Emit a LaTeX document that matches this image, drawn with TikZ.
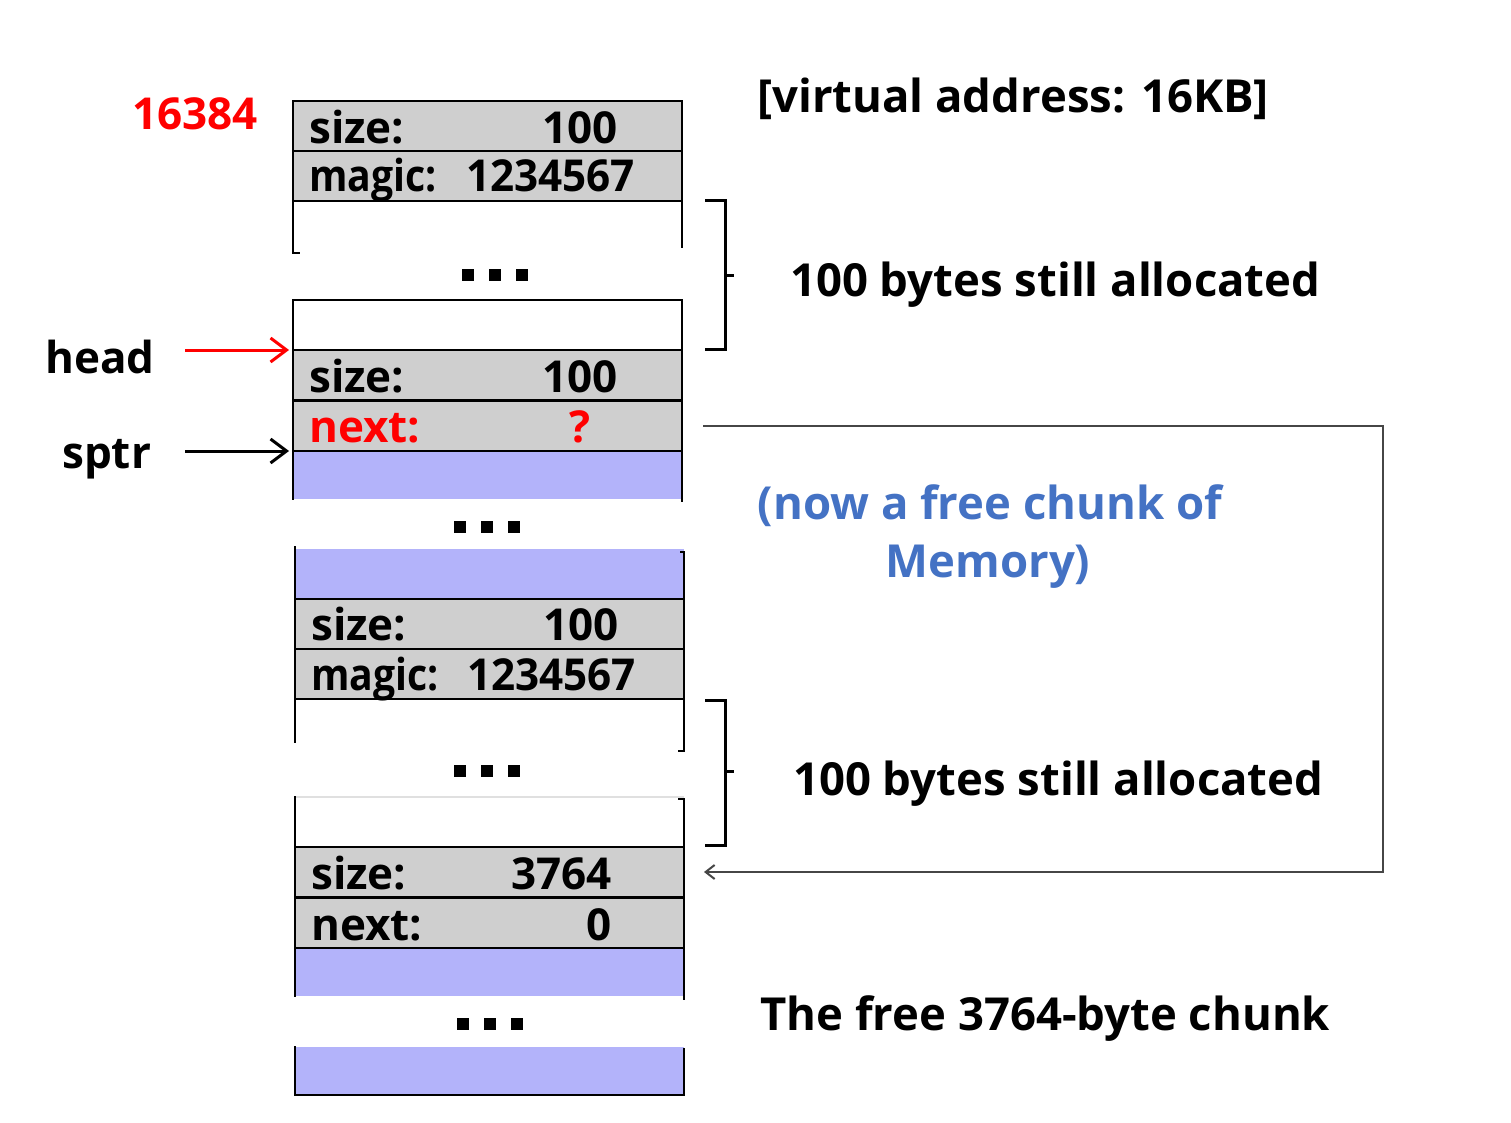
\documentclass[tikz,border=0pt]{standalone}
\usepackage{fontspec}
\usepackage{graphicx}
\IfFontExistsTF{Open Sans Bold}{\setmainfont{Open Sans}[BoldFont={Open Sans Bold}]}{%
  \IfFontExistsTF{Fira Sans Bold}{\setmainfont{Fira Sans}[BoldFont={Fira Sans Bold}]}{%
    \setmainfont{Noto Sans}[BoldFont={Noto Sans},BoldFeatures={FakeBold=2}]}}
\usetikzlibrary{arrows.meta}
\definecolor{cellgray}{RGB}{207,207,207}
\definecolor{cellblue}{RGB}{179,179,250}
\definecolor{txtblue}{RGB}{68,114,196}
\definecolor{txtred}{RGB}{255,0,0}
\definecolor{linkgray}{RGB}{70,70,70}
\begin{document}
\begin{tikzpicture}[x=1pt,y=-1pt,
  font=\fontsize{44}{50}\selectfont\bfseries,
  cellbox/.style={inner sep=0pt, anchor=north west, minimum width=389pt, minimum height=50pt, outer sep=0pt},
  grayrow/.style={cellbox, fill=cellgray, draw=black, line width=2.5pt},
  whiterow/.style={cellbox, fill=white},
  bluerow/.style={cellbox, fill=cellblue},
  edge/.style={line width=2.5pt, line cap=rect},
  dotsq/.style={fill=black, inner sep=0pt, minimum size=12pt, outer sep=0pt},
  lbl/.style={inner sep=0pt, anchor=base west},
  val/.style={inner sep=0pt, anchor=base east},
  note/.style={inner sep=0pt, font=\fontsize{45.5}{52}\selectfont\bfseries},
  brace/.style={line width=3pt},
  ptr/.style={line width=3pt, -{Straight Barb[length=16pt,width=24pt,line width=3pt]}}
]
\useasboundingbox (0,0) rectangle (1511,1123);

% ---------- upper column ----------
\node[whiterow] (w1) at (293,201) {};
\draw[edge] (w1.north west) -- ++(0,52) -- ++(6,0);
\draw[edge] (w1.north east) -- ++(0,46);
\node[whiterow, draw=black, line width=2.5pt] (w2) at (293,300) {};
\node[bluerow, minimum height=48pt] (b1) at (293,451) {};
\draw[edge] (b1.north west) -- (b1.south west);
\draw[edge] (b1.north east) -- ++(0,50);
\node[grayrow] (r1) at (293,101) {};
\node[grayrow] (r2) at (293,151) {};
\node[grayrow] (r3) at (293,350) {};
\node[grayrow] (r4) at (293,401) {};

% ---------- lower column ----------
\node[bluerow] (b2) at (295,549) {};
\draw[edge] ([yshift=2pt]b2.north west) -- (b2.south west);
\draw[edge] ([xshift=-3pt,yshift=-3pt]b2.north east) -- ++(3,0) -- (b2.south east);
\node[whiterow] (w3) at (295,700) {};
\draw[edge] (w3.north west) -- ++(0,42);
\draw[edge] (w3.north east) -- ++(0,51) -- ++(-5,0);
\node[whiterow] (w4) at (295,797) {};
\draw[line width=1.5pt, black!12] (w4.north west) -- (w4.north east);
\draw[edge] (w4.north west) -- (w4.south west);
\draw[edge] ([xshift=-5pt,yshift=-2pt]w4.north east) -- ++(5,0) -- (w4.south east);
\node[bluerow, minimum height=48pt] (b3) at (295,948) {};
\draw[edge] (b3.north west) -- (b3.south west);
\draw[edge] (b3.north east) -- ++(0,51);
\node[bluerow, minimum height=48pt] (b4) at (295,1047) {};
\draw[edge] (b4.north west) -- (b4.south west) -- (b4.south east) -- ([yshift=-2pt]b4.north east);
\node[grayrow] (r5) at (295,599) {};
\node[grayrow] (r6) at (295,649) {};
\node[grayrow] (r7) at (295,847) {};
\node[grayrow] (r8) at (295,898) {};

% ---------- row texts ----------
\node[lbl] (r1l) at (309,144) {size:};
\node[val] (r1v) at (618,144) {100};
\node[lbl] (r2l) at (309,192) {\scalebox{0.89}[1]{magic:}};
\node[val] (r2v) at (635,192) {\scalebox{0.96}[1]{1234567}};
\node[lbl] (r3l) at (309,392) {size:};
\node[val] (r3v) at (618,392) {100};
\node[lbl, text=txtred] (r4l) at (309,442) {next:};
\node[val, text=txtred] (r4v) at (591,442) {?};
\node[lbl] (r5l) at (311,640) {size:};
\node[val] (r5v) at (619,640) {100};
\node[lbl] (r6l) at (311,690) {\scalebox{0.89}[1]{magic:}};
\node[val] (r6v) at (636,690) {\scalebox{0.96}[1]{1234567}};
\node[lbl] (r7l) at (311,889) {size:};
\node[val] (r7v) at (612,889) {3764};
\node[lbl] (r8l) at (311,940) {next:};
\node[val] (r8v) at (612,940) {0};

% ---------- ellipsis squares ----------
\foreach \n/\cx/\cy in {da/495/275, db/487/527, dc/487/771, dd/490/1024}{
  \node[dotsq] (\n1) at (\cx-27,\cy) {};
  \node[dotsq] (\n2) at (\cx,\cy) {};
  \node[dotsq] (\n3) at (\cx+27,\cy) {};
}

% ---------- braces ----------
\draw[brace] (705,201) -- (725,201) -- (725,349) -- (705,349);
\draw[brace] (725,275) -- (734,275);
\draw[brace] (705,700) -- (725,700) -- (725,845) -- (705,845);
\draw[brace] (725,771) -- (734,771);

% ---------- right-hand texts ----------
\node[note, anchor=base west] (vaddr) at (757,113) {[virtual address: 16KB]};
\node[note, anchor=base west] (alloc1) at (790,296) {100 bytes still allocated};
\node[note, anchor=base, text=txtblue] (free1) at (990,519) {(now a free chunk of};
\node[note, anchor=base, text=txtblue] (free2) at (988,577) {Memory)};
\node[note, anchor=base west] (alloc2) at (793,795) {100 bytes still allocated};
\node[note, anchor=base west] (chunk) at (760,1030) {The free 3764-byte chunk};

% ---------- left texts and pointers ----------
\node[val, text=txtred] (addr) at (258,130) {16384};
\node[lbl] (head) at (45,373) {head};
\node[lbl] (sptr) at (62,468) {sptr};
\coordinate (hs) at (185,350);
\coordinate (ss) at (185,451);
\draw[ptr, txtred] (hs) -- ([xshift=-4pt]r3.north west);
\draw[ptr, black] (ss) -- ([xshift=-4pt]r4.south west);

% ---------- free-list link ----------
\coordinate (ls) at ([xshift=21pt]r4.east);
\coordinate (lc1) at (1383,426);
\coordinate (lc2) at (1383,872);
\draw[line width=2.5pt, linkgray, -{Straight Barb[length=9pt,width=14pt,line width=2pt]}]
  (ls) -- (lc1) -- (lc2) -- ([xshift=20pt]r7.east);
\end{tikzpicture}
\end{document}
